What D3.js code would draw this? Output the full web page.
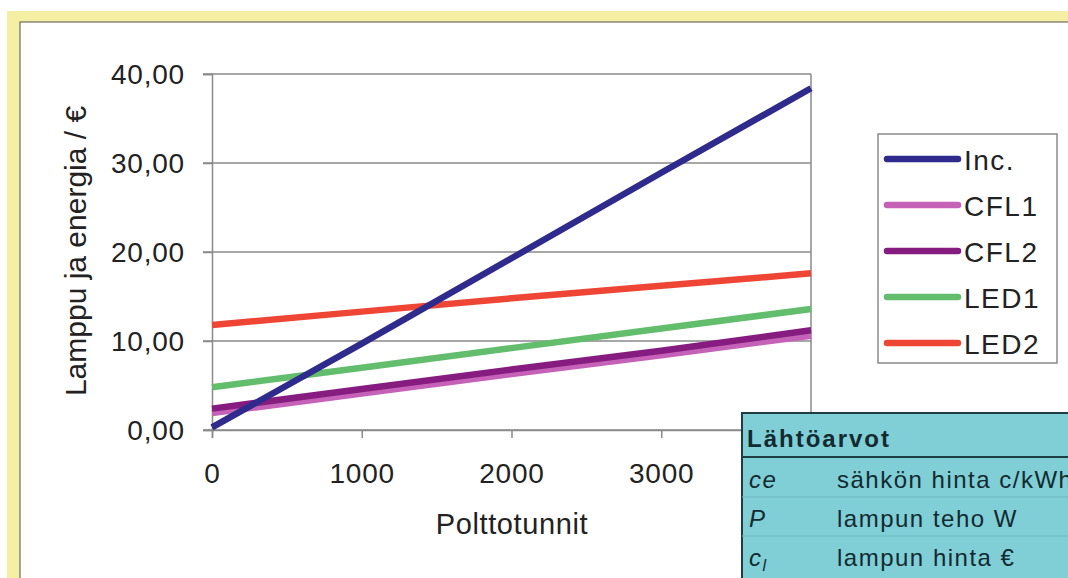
<!DOCTYPE html>
<html><head><meta charset="utf-8">
<script src="https://cdn.jsdelivr.net/npm/d3@7"></script>
<style>
html,body{margin:0;padding:0;background:#fff;}
svg{display:block;font-family:"Liberation Sans",Arial,sans-serif;}
</style></head>
<body><svg id="c" width="1068" height="578"></svg>
<script>
// ---- data ----
const hours = [0, 1000, 2000, 3000, 4000];
const incValues  = [0.3, 9.7, 19.3, 28.9, 38.4];
const cfl1Values = [1.9, 4.1, 6.3, 8.4, 10.6];
const cfl2Values = [2.4, 4.6, 6.8, 8.9, 11.2];
const led1Values = [4.8, 7.0, 9.2, 11.4, 13.6];
const led2Values = [11.8, 13.3, 14.8, 16.2, 17.6];
const seriesNames = ["Inc.", "CFL1", "CFL2", "LED1", "LED2"];
const seriesColors = ["#2f2b8c", "#c562b8", "#861c7f", "#62bd6c", "#ef4535"];
const yTicks = [0, 10, 20, 30, 40];
const xTicks = [0, 1000, 2000, 3000, 4000];
const xTitle = "Polttotunnit";
const yTitle = "Lamppu ja energia / €";
const tableTitle = "Lähtöarvot";
const tableSymbols = ["ce", "P", "c"];
const tableLabels = ["sähkön hinta c/kWh", "lampun teho W", "lampun hinta €"];

const seriesValues = [incValues, cfl1Values, cfl2Values, led1Values, led2Values];

const svg = d3.select("#c");

// frame
svg.append("rect").attr("x",7).attr("y",11).attr("width",1100).attr("height",600).attr("fill","#f4efa2");
svg.append("rect").attr("x",20).attr("y",22).attr("width",1100).attr("height",600).attr("fill","#fff").attr("stroke","#6d6d60").attr("stroke-width",1.2);

const x = d3.scaleLinear().domain([0,4000]).range([212,811]);
const y = d3.scaleLinear().domain([0,40]).range([430,74]);
const loc = d3.formatLocale({decimal:",",thousands:"\u00a0",grouping:[3],currency:["","€"]});
const fmtY = loc.format(".2f");

// gridlines
const g = svg.append("g");
g.selectAll("line.grid").data(yTicks).join("line")
  .attr("x1",x(0)-9).attr("x2",x(4000)).attr("y1",d=>y(d)).attr("y2",d=>y(d))
  .attr("stroke","#8a8a8a").attr("stroke-width",1.5);
// right border
g.append("line").attr("x1",x(4000)).attr("x2",x(4000)).attr("y1",y(40)).attr("y2",y(0)+8)
  .attr("stroke","#8a8a8a").attr("stroke-width",1.5);
// y axis
const yAxis = d3.axisLeft(y).tickValues(yTicks).tickSize(9).tickPadding(18).tickFormat(fmtY);
const ya = svg.append("g").attr("transform",`translate(${x(0)},0)`).call(yAxis);
ya.select(".domain").attr("stroke","#8a8a8a").attr("stroke-width",1.5);
ya.selectAll(".tick line").attr("stroke","#8a8a8a").attr("stroke-width",1.5);
ya.selectAll(".tick text").attr("font-size",28).attr("fill","#222").attr("letter-spacing",0.8).attr("font-family","Liberation Sans, Arial, sans-serif").attr("dy","0.35em");
// x axis
const xAxis = d3.axisBottom(x).tickValues(xTicks).tickSize(8).tickPadding(25).tickFormat(d3.format("d"));
const xa = svg.append("g").attr("transform",`translate(0,${y(0)})`).call(xAxis);
xa.select(".domain").attr("stroke","#8a8a8a").attr("stroke-width",1.5);
xa.selectAll(".tick line").attr("stroke","#8a8a8a").attr("stroke-width",1.5);
xa.selectAll(".tick text").attr("font-size",28).attr("fill","#222").attr("letter-spacing",0.8).attr("font-family","Liberation Sans, Arial, sans-serif");

// titles
svg.append("text").attr("x",512).attr("y",534).attr("text-anchor","middle").attr("font-size",29).attr("letter-spacing",0.6).attr("fill","#222").text(xTitle);
svg.append("text").attr("transform","translate(86,251) rotate(-90)").attr("text-anchor","middle").attr("font-size",30).attr("fill","#222").text(yTitle);

// lines
const line = d3.line().x((d,i)=>x(hours[i])).y(d=>y(d));
const order = [1,2,3,4,0];
svg.append("g").selectAll("path").data(order).join("path")
  .attr("d",i=>line(seriesValues[i]))
  .attr("fill","none").attr("stroke",i=>seriesColors[i]).attr("stroke-width",6.5);

// legend
const lg = svg.append("g");
lg.append("rect").attr("x",878).attr("y",134).attr("width",179).attr("height",229)
  .attr("fill","#fff").attr("stroke","#8a8a8a").attr("stroke-width",1.5);
seriesNames.forEach((n,i)=>{
  const ly = 159 + i*46;
  lg.append("line").attr("x1",887).attr("x2",958).attr("y1",ly).attr("y2",ly)
    .attr("stroke",seriesColors[i]).attr("stroke-width",6.5).attr("stroke-linecap","round");
  lg.append("text").attr("x",964).attr("y",ly+11).attr("font-size",28).attr("letter-spacing",1.5).attr("fill","#222").text(n);
});

// table
const tg = svg.append("g");
tg.append("rect").attr("x",742).attr("y",413).attr("width",400).attr("height",200)
  .attr("fill","#80ced6").attr("stroke","#1e3d44").attr("stroke-width",2);
tg.append("line").attr("x1",742).attr("x2",1100).attr("y1",457).attr("y2",457).attr("stroke","#1e3d44").attr("stroke-width",2);
[497,536].forEach(yy=>tg.append("line").attr("x1",742).attr("x2",1100).attr("y1",yy).attr("y2",yy).attr("stroke","#6fb8c0").attr("stroke-width",1));
tg.append("text").attr("x",747).attr("y",447).attr("font-size",24).attr("font-weight","bold").attr("fill","#122a30").attr("letter-spacing",2).text(tableTitle);
tableSymbols.forEach((s,i)=>{
  const t = tg.append("text").attr("x",749).attr("y",488+i*39).attr("font-size",24).attr("font-style","italic").attr("letter-spacing",1.5).attr("fill","#122a30");
  t.append("tspan").text(s);
  if (i===2) t.append("tspan").attr("dy",5).attr("font-size",16).text("l");
  tg.append("text").attr("x",837).attr("y",488+i*39).attr("font-size",24).attr("letter-spacing",1.5).attr("fill","#122a30").text(tableLabels[i]);
});
</script>
</body></html>
